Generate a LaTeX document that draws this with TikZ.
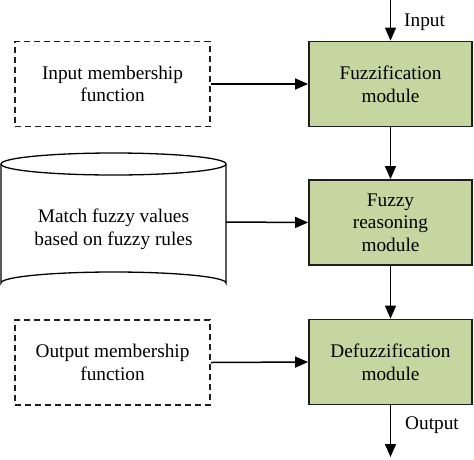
\documentclass[tikz,border=0pt]{standalone}
\usepackage{fontspec}
\setmainfont{Liberation Serif}
\usetikzlibrary{arrows.meta}
\definecolor{boxgreen}{RGB}{197,214,160}
\definecolor{edge}{RGB}{30,30,30}
\tikzset{
  module/.style={draw=edge, line width=1.8pt, fill=boxgreen, minimum width=163pt, minimum height=85pt, align=center, inner sep=0pt, font=\fontsize{19.3}{22.7}\selectfont},
  dashbox/.style={draw=edge, line width=1.5pt, dash pattern=on 6pt off 4pt, minimum width=195pt, minimum height=85pt, align=center, inner sep=0pt, font=\fontsize{19.3}{22.7}\selectfont},
  flow/.style={-{Triangle[length=13pt,width=11pt]}, line width=1.5pt, draw=black},
  lbl/.style={font=\fontsize{19.3}{22.7}\selectfont, inner sep=0pt},
  cyl/.style={draw=black, line width=1.3pt}
}
\begin{document}
\begin{tikzpicture}[x=1pt,y=-1pt]
\useasboundingbox (0,0) rectangle (474,459);
% modules
\node[module] (fz) at (390.5,84) {Fuzzification\\module};
\node[module] (fr) at (390.5,222.5) {Fuzzy\\reasoning\\module};
\node[module] (df) at (390.5,362) {Defuzzification\\module};
% dashed boxes
\node[dashbox] (imf) at (112.5,84) {Input membership\\function};
\node[dashbox] (omf) at (112.5,362.5) {Output membership\\function};
% cylinder
\draw[cyl] (1,164) -- (1,283) arc[start angle=180, end angle=360, x radius=112.5, y radius=11] -- (226,164);
\draw[cyl] (113.5,164) ellipse[x radius=112.5, y radius=11];
\node[lbl, align=center] (db) at (113.5,229) {Match fuzzy values\\based on fuzzy rules};
\coordinate (dbr) at (226,222);
% input/output
\coordinate (in) at (390.5,0);
\coordinate (out) at (390.5,457);
\draw[flow] (in) -- (fz.north);
\node[lbl, anchor=west] (inlbl) at (404,22) {Input};
\draw[flow] (df.south) -- (out);
\node[lbl, anchor=west] (outlbl) at (405,425) {Output};
% vertical flow
\draw[flow] (fz.south) -- (fr.north);
\draw[flow] (fr.south) -- (df.north);
% horizontal
\draw[flow] (imf.east) -- (fz.west);
\draw[flow] (dbr) -- (fr.west);
\draw[flow] (omf.east) -- (df.west);
\end{tikzpicture}
\end{document}
